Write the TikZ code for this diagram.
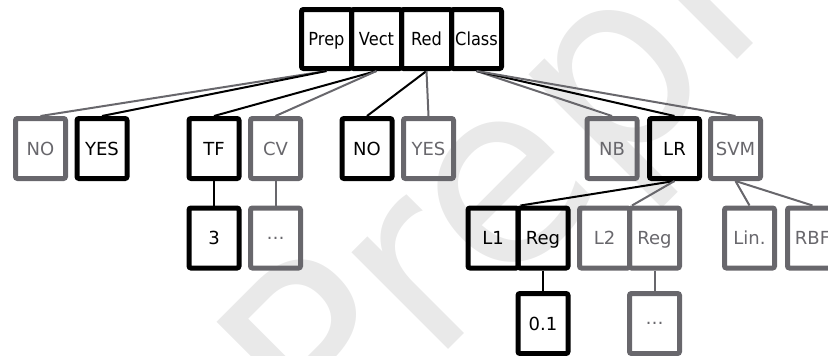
\documentclass[tikz,border=0pt]{standalone}
\usepackage{fontspec}
\newfontfamily\dejavu{DejaVu Sans}
\newfontfamily\estrecha[FakeStretch=0.9]{DejaVu Sans}
\definecolor{griso}{RGB}{104,103,108}

\begin{document}
\begin{tikzpicture}[x=1pt,y=-1pt,
  caja/.style={draw,line width=5pt,rounded corners=2pt,minimum width=50pt,
    minimum height=60pt,inner sep=0pt,font=\dejavu\fontsize{18}{21}\selectfont},
  alto/.style={text height=13.1pt,text depth=0pt},
  elegida/.style={caja,alto,draw=black,text=black},
  otra/.style={caja,alto,draw=griso,text=griso},
  otrapt/.style={caja,draw=griso,text=griso},
  etapa/.style={elegida,minimum height=59pt,font=\estrecha\fontsize{18}{21}\selectfont},
  rama/.style={line width=2pt}]
  \useasboundingbox (0,0) rectangle (828,356);
  \clip (0,0) rectangle (828,356);
  % marca de agua al fondo
  \node[rotate=45,text=gray!17,font=\dejavu\fontsize{250}{250}\selectfont] (marca) at (628,72) {Preprint};
  % etapas del pipeline
  \foreach \n/\t [count=\i] in {prep/Prep,vect/Vect,red/Red,clas/Class}
    \node[etapa] (\n) at (276.5+50*\i,39) {\t};
  % opciones de cada etapa
  \node[otra] (prepno) at (40.5,148.5) {NO};
  \node[elegida] (prepsi) at (102,148.5) {YES};
  \node[elegida] (tf) at (214,148.5) {TF};
  \node[otra] (cv) at (275.5,148.5) {CV};
  \node[elegida] (redno) at (367,148.5) {NO};
  \node[otra] (redsi) at (428.5,148.5) {YES};
  \node[otra] (nb) at (612,148.5) {NB};
  \node[elegida] (lr) at (674.5,148.5) {LR};
  \node[otra] (svm) at (735.5,148.5) {SVM};
  % parametros
  \node[elegida] (tfn) at (214,238) {3};
  \node[otrapt] (cvx) at (275.5,238) {…};
  \node[elegida] (l1) at (493,238) {L1};
  \node[elegida] (reg1) at (543,238) {Reg};
  \node[otra] (l2) at (604.5,238) {L2};
  \node[otra] (reg2) at (654.5,238) {Reg};
  \node[otra] (lin) at (749.5,238) {Lin.};
  \node[otra] (rbf) at (812.5,238) {RBF};
  \node[elegida] (c) at (543,323.5) {0.1};
  \node[otrapt] (regx) at (654.5,323.5) {…};
  % ramas: negro = camino elegido
  \draw[rama,griso] (prep.south) -- (prepno.north);
  \draw[rama] (prep.south) -- (prepsi.north);
  \draw[rama] (vect.south) -- (tf.north);
  \draw[rama,griso] (vect.south) -- (cv.north);
  \draw[rama] (red.south) -- (redno.north);
  \draw[rama,griso] (red.south) -- (redsi.north);
  \draw[rama,griso] (clas.south) -- (nb.north);
  \draw[rama] (clas.south) -- (lr.north);
  \draw[rama,griso] (clas.south) -- (svm.north);
  \draw[rama] (tf.south) -- (tfn.north);
  \draw[rama,griso] (cv.south) -- (cvx.north);
  \draw[rama] (lr.south) -- (l1.north east);
  \draw[rama,griso] (lr.south) -- (l2.north east);
  \draw[rama,griso] (svm.south) -- (lin.north);
  \draw[rama,griso] (svm.south) -- (rbf.north);
  \draw[rama] (reg1.south) -- (c.north);
  \draw[rama,griso] (reg2.south) -- (regx.north);
\end{tikzpicture}
\end{document}
